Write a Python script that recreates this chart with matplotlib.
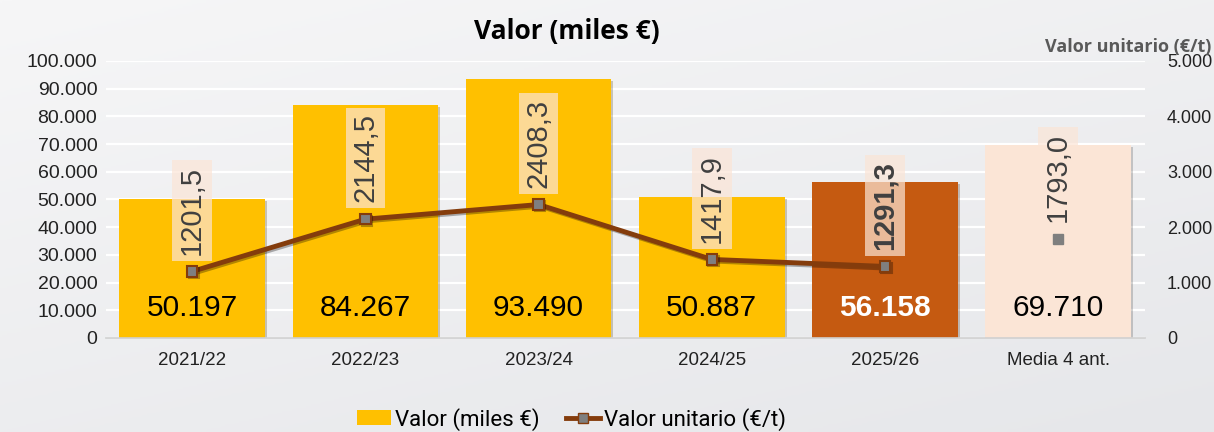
import numpy as np
import matplotlib.pyplot as plt
import matplotlib.patheffects as pe
from matplotlib.lines import Line2D
from matplotlib.patches import Patch

categories = ['2021/22', '2022/23', '2023/24', '2024/25', '2025/26', 'Media 4 ant.']
valor = [50197, 84267, 93490, 50887, 56158, 69710]
valor_labels = ['50.197', '84.267', '93.490', '50.887', '56.158', '69.710']
unitario = [1201.5, 2144.5, 2408.3, 1417.9, 1291.3, 1793.0]
unitario_labels = ['1201,5', '2144,5', '2408,3', '1417,9', '1291,3', '1793,0']
left_ticks = [0, 10000, 20000, 30000, 40000, 50000, 60000, 70000, 80000, 90000, 100000]
left_tick_labels = ['0', '10.000', '20.000', '30.000', '40.000', '50.000', '60.000',
                    '70.000', '80.000', '90.000', '100.000']
right_ticks = [0, 1000, 2000, 3000, 4000, 5000]
right_tick_labels = ['0', '1.000', '2.000', '3.000', '4.000', '5.000']

bar_colors = ['#FFC000', '#FFC000', '#FFC000', '#FFC000', '#C55A11', '#FBE5D6']
line_color = '#843C0C'
txt = 'Liberation Sans'

fig = plt.figure(figsize=(12.14, 4.32), dpi=100)

# background gradient
bg = fig.add_axes([0, 0, 1, 1], zorder=-10)
grad = np.linspace(0, 1, 256).reshape(-1, 1) * np.ones((1, 256))
grad = grad * 0.6 + np.linspace(0, 1, 256).reshape(1, -1) * 0.4
bg.imshow(grad, cmap=plt.matplotlib.colors.LinearSegmentedColormap.from_list(
    'bg', ['#F6F6F7', '#E6E7EA']), aspect='auto', extent=[0, 1, 0, 1])
bg.axis('off')

ax = fig.add_axes([0.087, 0.2176, 0.856, 0.6414])
ax.patch.set_alpha(0)
x = np.arange(len(categories))

shadow = [pe.SimplePatchShadow(offset=(1.5, -1.5), alpha=0.25), pe.Normal()]
bars = ax.bar(x, valor, width=0.84, color=bar_colors, zorder=2)
for b in bars:
    b.set_path_effects(shadow)

for i, lab in enumerate(valor_labels):
    ax.text(x[i], 10800, lab, ha='center', va='center', fontsize=21.5, family=txt,
            color='white' if i == 4 else 'black', fontweight='bold' if i == 4 else 'normal',
            zorder=5)

ax.set_ylim(0, 100000)
ax.set_xlim(-0.5, len(categories) - 0.5)
ax.set_yticks(left_ticks)
ax.set_yticklabels(left_tick_labels, fontsize=14, family=txt, color='#222222')
ax.set_xticks(x)
ax.set_xticklabels(categories, fontsize=13.5, family=txt, color='#222222')
ax.tick_params(length=0, pad=10)
ax.tick_params(axis='y', pad=6)
ax.grid(axis='y', color='white', linewidth=1.6, zorder=0)
ax.set_axisbelow(True)
for s in ['top', 'right', 'left']:
    ax.spines[s].set_visible(False)
ax.spines['bottom'].set_color('#d0d0d0')
ax.spines['bottom'].set_linewidth(1.2)

ax2 = ax.twinx()
ax2.set_ylim(0, 5000)
ax2.set_yticks(right_ticks)
ax2.set_yticklabels(right_tick_labels, fontsize=13, family=txt, color='#222222')
ax2.tick_params(length=0, pad=16)
for s in ['top', 'right', 'left', 'bottom']:
    ax2.spines[s].set_visible(False)

lshadow = [pe.SimpleLineShadow(offset=(1.2, -1.2), alpha=0.3), pe.Normal()]
ax2.plot(x[:5], unitario[:5], color=line_color, linewidth=3.5, marker='s', markersize=7.5,
         markerfacecolor='#7F7F7F', markeredgecolor=line_color, markeredgewidth=1.5,
         zorder=3, path_effects=lshadow)
ax2.plot(x[5], unitario[5], linestyle='none', marker='s', markersize=7,
         markerfacecolor='#7F7F7F', markeredgecolor='#7F7F7F', zorder=3)

for i, lab in enumerate(unitario_labels):
    ax2.annotate(lab, (x[i], unitario[i]), xytext=(0, 12), textcoords='offset points',
                 rotation=90, ha='center', va='bottom', fontsize=21, family=txt,
                 color='#404040', fontweight='bold' if i == 4 else 'normal',
                 bbox=dict(boxstyle='square,pad=0.2', facecolor='#FBE5D6', edgecolor='none',
                           alpha=0.7), zorder=6)

fig.text(0.467, 0.928, 'Valor (miles €)', ha='center', va='center', fontsize=19,
         fontweight='bold', family='Open Sans', color='black')
fig.text(0.998, 0.892, 'Valor unitario (€/t)', ha='right', va='center', fontsize=13,
         fontweight='bold', family='Open Sans', color='#595959')

handles = [Patch(facecolor='#FFC000', edgecolor='none'),
           Line2D([0], [0], color=line_color, linewidth=3.5, marker='s', markersize=7.5,
                  markerfacecolor='#7F7F7F', markeredgecolor=line_color)]
fig.legend(handles, ['Valor (miles €)', 'Valor unitario (€/t)'], loc='center',
           bbox_to_anchor=(0.471, 0.03), ncol=2, frameon=False,
           prop={'family': 'Roboto', 'size': 16}, handlelength=1.5, handletextpad=0.2,
           columnspacing=1.2)

fig.savefig('out.png', dpi=100)
